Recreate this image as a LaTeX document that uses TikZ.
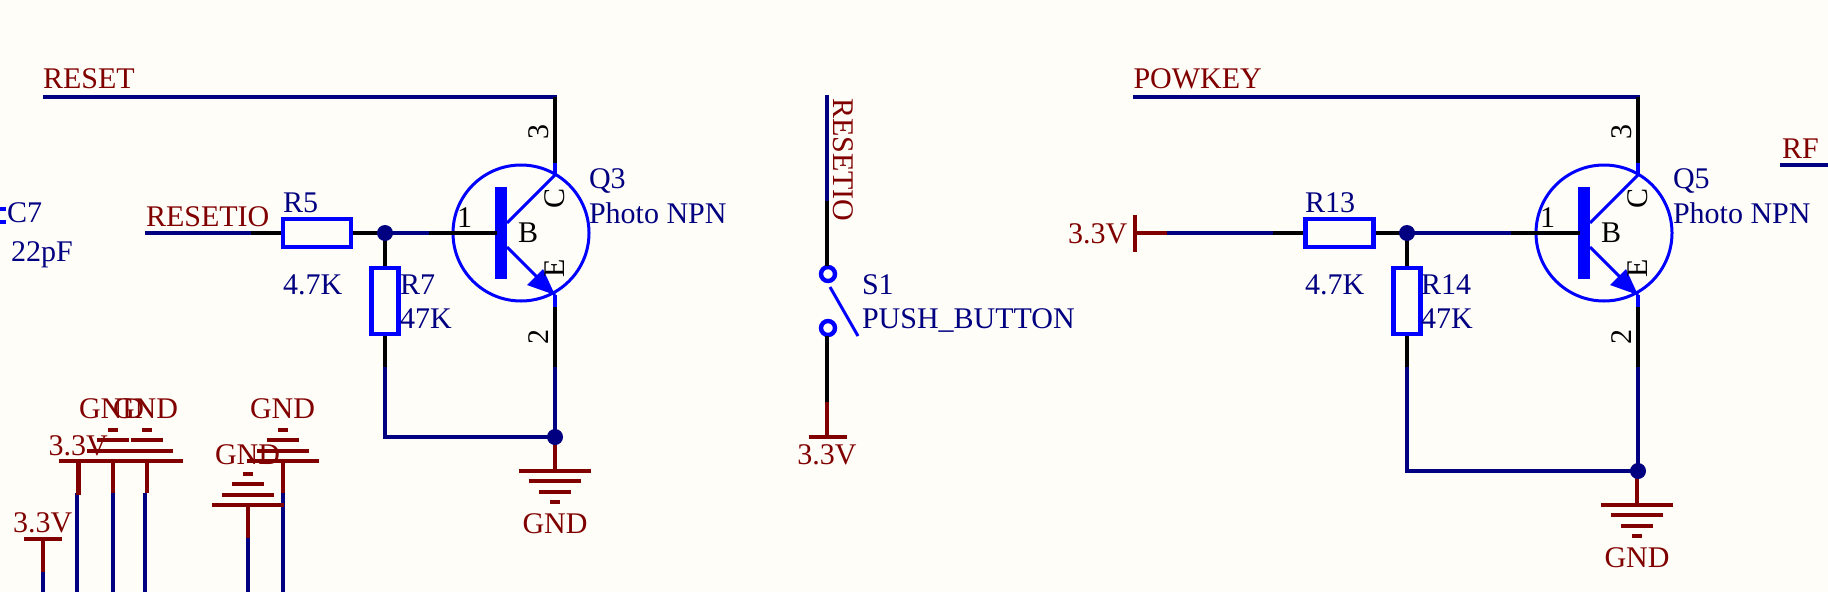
\documentclass[tikz,border=0pt]{standalone}
\usepackage{fontspec}
\setmainfont{Liberation Serif}
\definecolor{paper}{HTML}{FFFDF8}
\definecolor{netblue}{HTML}{000080}
\definecolor{netred}{HTML}{800000}
\definecolor{symblue}{HTML}{0000FF}
\tikzset{
  txt/.style={inner sep=0pt,outer sep=0pt,font=\fontsize{30}{30}\selectfont},
  lab/.style={txt,anchor=base west,text=netred},
  val/.style={txt,anchor=base west,text=netblue},
  pin/.style={txt,anchor=center,text=black,rotate=90},
  pinh/.style={txt,anchor=base west,text=black},
  wnet/.style={draw=netblue,line width=4.4pt},
  wpin/.style={draw=black,line width=4.4pt},
  wpwr/.style={draw=netred,line width=4.4pt},
  wsym/.style={draw=symblue,line width=4.4pt},
  wthin/.style={draw=symblue,line width=3pt},
  dot/.style={fill=netblue,draw=none},
}
% ground symbol: name, x, y of the first bar, direction of the apex (+1 down, -1 up)
\newcommand{\gndsym}[4]{%
  \coordinate (#1) at (#2,#3);
  \draw[wpwr] ([xshift=-36pt]#1) -- ([xshift=36pt]#1);
  \draw[wpwr] ([xshift=-26pt,yshift=-10*#4 pt]#1) -- ([xshift=26pt,yshift=-10*#4 pt]#1);
  \draw[wpwr] ([xshift=-16pt,yshift=-21*#4 pt]#1) -- ([xshift=16pt,yshift=-21*#4 pt]#1);
  \draw[wpwr] ([xshift=-5pt,yshift=-31*#4 pt]#1) -- ([xshift=5pt,yshift=-31*#4 pt]#1);
}
% transistor: prefix, x of collector line
\newcommand{\photonpn}[2]{%
  \coordinate (#1c) at (#2,163);
  \coordinate (#1cd) at (#2,175);
  \coordinate (#1e) at (#2,295);
  \coordinate (#1ed) at (#2,307);
  \coordinate (#1o) at (#2-34,233);
  \coordinate (#1bt) at (#2-54,187);
  \coordinate (#1bb) at (#2-54,279);
  \coordinate (#1bc) at (#2-48,223);
  \coordinate (#1be) at (#2-48,247);
  \draw[symblue,line width=3pt] (#1o) circle[radius=68pt];
  \draw[wsym,line width=12pt] (#1bt) -- (#1bb);
  \draw[wthin] (#1bc) -- (#1cd);
  \draw[wthin] (#1be) -- (#1e);
  \fill[symblue] (#1e) -- (#2-28,285) -- (#2-12,269) -- cycle;
  \draw[wsym] (#1c) -- (#1cd);
  \draw[wsym] (#1e) -- (#1ed);
  \node[pin] (#1C) at (#2,198.5) {C};
  \node[pin] (#1E) at (#2,268) {E};
  \node[pin] (#1p3) at (#2-16,132) {3};
  \node[pin] (#1p2) at (#2-16,337) {2};
  \node[pinh] (#1p1) at (#2-98,227) {1};
  \node[pinh] (#1B) at (#2-37,242) {B};
}
\begin{document}
\begin{tikzpicture}[x=1pt,y=-1pt]
\useasboundingbox[fill=paper] (0,0) rectangle (1828,592);

% ---------- Left transistor
\photonpn{qa}{555}
\coordinate (ra) at (43,97);
\coordinate (rb) at (557,97);
\coordinate (qat) at (555,97);
\draw[wnet] (ra) -- (rb);
\draw[wpin] (qat) -- (qac);
\coordinate (rio) at (145,233);
\coordinate (riob) at (251,233);
\coordinate (jA) at (385,233);
\coordinate (jAb) at (429,233);
\coordinate (baseA) at (497,233);
\node[draw=symblue,line width=4.4pt,minimum width=68pt,minimum height=28pt,inner sep=0pt] (R5) at (317,233) {};
\node[draw=symblue,line width=4.4pt,minimum width=27pt,minimum height=66pt,inner sep=0pt] (R7) at (385,301) {};
\draw[wnet] (rio) -- (riob);
\draw[wpin] (riob) -- (R5.west);
\draw[wpin] (R5.east) -- (jA);
\draw[wnet] (jA) -- (jAb);
\draw[wpin] (jAb) -- (baseA);
\draw[wpin] (jA) -- (R7.north);
\coordinate (r7n) at (385,367);
\coordinate (qan) at (555,367);
\coordinate (jB) at (555,437);
\coordinate (cB) at (385,437);
\draw[wpin] (R7.south) -- (r7n);
\draw[wpin] (qaed) -- (qan);
\draw[wnet] (qan) -- (jB);
\draw[wnet,line join=miter] (r7n) -- (cB) -- (jB);
\gndsym{gA}{555}{471}{1}
\draw[wpwr] (jB) -- (gA);
\fill[dot] (jA) circle[radius=8pt];
\fill[dot] (jB) circle[radius=8pt];

\node[lab] (tRESET) at (43,88) {RESET};
\node[lab] (tRESETIO) at (146,226) {RESETIO};
\node[val] (tR5) at (283,212) {R5};
\node[val] (t47a) at (283,294) {4.7K};
\node[val] (tR7) at (400,294) {R7};
\node[val] (t47Ka) at (400,328) {47K};
\node[val] (tQ3) at (589,188) {Q3};
\node[val] (tPa) at (589,223) {Photo NPN};
\node[lab,anchor=base] (tGa) at (555,533) {GND};

% ---------- C7 fragment
\coordinate (c7a) at (0,209);
\coordinate (c7b) at (6,209);
\coordinate (c7c) at (0,222);
\coordinate (c7d) at (6,222);
\draw[wsym] (c7a) -- (c7b);
\draw[wsym] (c7c) -- (c7d);
\node[val] (tC7) at (7,222) {C7};
\node[val] (t22) at (11,261) {22pF};

% ---------- Lower-left power symbols
\coordinate (b1) at (77,592);
\coordinate (b2) at (113,592);
\coordinate (b3) at (145,592);
\coordinate (b4) at (248,592);
\coordinate (b5) at (283,592);
\coordinate (b6) at (43,592);
\coordinate (m1) at (77,493);
\coordinate (m2) at (113,493);
\coordinate (m3) at (145,493);
\coordinate (m4) at (248,538);
\coordinate (m5) at (283,493);
\coordinate (m6) at (43,572);
\draw[wnet] (m1) -- (b1);
\draw[wnet] (m2) -- (b2);
\draw[wnet] (m3) -- (b3);
\draw[wnet] (m4) -- (b4);
\draw[wnet] (m5) -- (b5);
\draw[wnet] (m6) -- (b6);
\gndsym{gB}{113}{461}{-1}
\gndsym{gC}{147}{461}{-1}
\gndsym{gD}{283}{461}{-1}
\gndsym{gE}{248}{505}{-1}
\coordinate (v1) at (78.5,461);
\coordinate (v2) at (43,539);
\draw[wpwr] ([xshift=-19.5pt]v1) -- ([xshift=19.5pt]v1);
\draw[wpwr] ([xshift=-19pt]v2) -- ([xshift=19pt]v2);
\draw[wpwr] (v1) -- (78.5,495);
\draw[wpwr] (gB) -- (113,493);
\draw[wpwr] (gC) -- (147,493);
\draw[wpwr] (gD) -- (m5);
\draw[wpwr] (gE) -- (m4);
\draw[wpwr] (v2) -- (m6);
\node[lab] (tG1) at (79,418) {GND};
\node[lab] (tG2) at (113,418) {GND};
\node[lab] (tG3) at (250,418) {GND};
\node[lab] (tG4) at (215,464) {GND};
\node[lab] (tV1) at (48.5,455) {3.3V};
\node[lab] (tV2) at (13,532) {3.3V};

% ---------- Switch
\coordinate (sa) at (827,95);
\coordinate (sb) at (827,201);
\coordinate (sc) at (827,266);
\node[circle,draw=symblue,line width=4.4pt,minimum size=14pt,inner sep=0pt] (s1a) at (828,274) {};
\node[circle,draw=symblue,line width=4.4pt,minimum size=14pt,inner sep=0pt] (s1b) at (828,328) {};
\coordinate (sd) at (827,402);
\coordinate (se) at (827,437);
\draw[wnet] (sa) -- (sb);
\draw[wpin] (sb) -- (sc);
\draw[wpin] (827,336) -- (sd);
\draw[wpwr] (sd) -- (se);
\draw[wpwr] (809,437) -- (847,437);
\coordinate (sw1) at (830,287);
\coordinate (sw2) at (858,336);
\draw[wthin] (sw1) -- (sw2);
\node[txt,anchor=base west,text=netred,rotate=-90] (tRIO) at (833,98) {RESETIO};
\node[val] (tS1) at (862,294) {S1};
\node[val] (tPB) at (862,328) {PUSH\_BUTTON};
\node[lab,anchor=base] (tV3) at (827,464) {3.3V};

% ---------- Right transistor
\photonpn{qb}{1638}
\coordinate (pa) at (1133,97);
\coordinate (pb) at (1640,97);
\coordinate (qbt) at (1638,97);
\draw[wnet] (pa) -- (pb);
\draw[wpin] (qbt) -- (qbc);
\coordinate (va) at (1135,233);
\coordinate (vb) at (1167,233);
\coordinate (vc) at (1273,233);
\coordinate (jC) at (1407,233);
\coordinate (jCb) at (1511,233);
\coordinate (baseB) at (1580,233);
\node[draw=symblue,line width=4.4pt,minimum width=68pt,minimum height=28pt,inner sep=0pt] (R13) at (1339.5,233) {};
\node[draw=symblue,line width=4.4pt,minimum width=27pt,minimum height=66pt,inner sep=0pt] (R14) at (1407,301) {};
\draw[wpwr] (va) -- (vb);
\draw[wpwr] (1135,215) -- (1135,252);
\draw[wnet] (vb) -- (vc);
\draw[wpin] (vc) -- (R13.west);
\draw[wpin] (R13.east) -- (jC);
\draw[wnet] (jC) -- (jCb);
\draw[wpin] (jCb) -- (baseB);
\draw[wpin] (jC) -- (R14.north);
\coordinate (r14n) at (1407,367);
\coordinate (qbn) at (1638,367);
\coordinate (jD) at (1638,471);
\coordinate (cD) at (1407,471);
\draw[wpin] (R14.south) -- (r14n);
\draw[wpin] (qbed) -- (qbn);
\draw[wnet] (qbn) -- (jD);
\draw[wnet] (r14n) -- (cD) -- (jD);
\gndsym{gF}{1637}{505}{1}
\draw[wpwr] (1637,471) -- (gF);
\fill[dot] (jC) circle[radius=8pt];
\fill[dot] (jD) circle[radius=8pt];

\node[lab] (tPK) at (1133.5,88) {POWKEY};
\node[lab] (tV4) at (1068,243) {3.3V};
\node[val] (tR13) at (1305,212) {R13};
\node[val] (t47b) at (1305,294) {4.7K};
\node[val] (tR14) at (1421,294) {R14};
\node[val] (t47Kb) at (1421,328) {47K};
\node[val] (tQ5) at (1673,188) {Q5};
\node[val] (tPb) at (1673,223) {Photo NPN};
\node[lab,anchor=base] (tGb) at (1637,567) {GND};

% ---------- RF stub
\coordinate (rfa) at (1780,165);
\coordinate (rfb) at (1828,165);
\draw[wnet] (rfa) -- (rfb);
\node[lab] (tRF) at (1782,158) {RF};
\end{tikzpicture}
\end{document}
